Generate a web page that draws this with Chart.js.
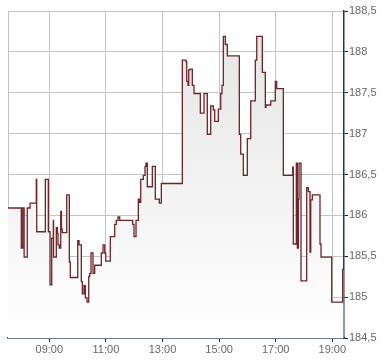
<!DOCTYPE html>
<html>
<head>
<meta charset="utf-8">
<script src="https://cdn.jsdelivr.net/npm/chart.js@4"></script>
<style>
  html, body { margin: 0; padding: 0; background: #fff; }
  #wrap { width: 390px; height: 364px; }
</style>
</head>
<body>
<div id="wrap"><canvas id="chart" width="390" height="364"></canvas></div>
<script>
// time of day (hours) where each price step starts
const times = [
    7.54, 8.01, 8.06, 8.11, 8.22, 8.32, 8.54, 8.555, 8.86, 8.965,
    9.025, 9.085, 9.141, 9.15, 9.247, 9.283, 9.307, 9.353, 9.403, 9.43,
    9.459, 9.615, 9.707, 9.742, 10.004, 10.049, 10.131, 10.166, 10.226, 10.272,
    10.332, 10.392, 10.428, 10.473, 10.544, 10.604, 10.837, 10.898, 10.958, 10.993,
    11.155, 11.311, 11.367, 11.428, 11.488, 11.947, 11.993, 12.064, 12.145, 12.18,
    12.23, 12.322, 12.382, 12.417, 12.463, 12.64, 12.746, 12.887, 12.958, 13.7,
    13.83, 13.855, 13.901, 13.926, 13.972, 14.053, 14.113, 14.336, 14.466, 14.583,
    14.703, 14.795, 14.845, 14.972, 15.057, 15.102, 15.148, 15.219, 15.29, 15.714,
    15.763, 15.855, 15.996, 16.117, 16.279, 16.329, 16.527, 16.633, 16.657, 16.823,
    16.986, 17.035, 17.269, 17.601, 17.622, 17.728, 17.763, 17.799, 17.823, 17.894,
    18.095, 18.152, 18.212, 18.237, 18.293, 18.565, 18.601, 18.979, 19.367, 19.403
];
const prices = [
    186.09, 185.60, 186.09, 185.49, 186.09, 186.15, 186.44, 185.80, 186.44, 185.80,
    185.15, 185.72, 185.94, 185.49, 185.85, 185.78, 185.64, 185.60, 186.05, 185.83,
    185.79, 186.25, 185.43, 185.24, 185.69, 185.64, 185.19, 185.04, 185.14, 184.99,
    184.94, 185.25, 185.29, 185.54, 185.29, 185.39, 185.54, 185.64, 185.54, 185.44,
    185.74, 185.89, 185.94, 185.98, 185.94, 185.89, 185.74, 185.94, 186.20, 186.16,
    186.44, 186.49, 186.60, 186.64, 186.35, 186.60, 186.20, 186.15, 186.39, 187.90,
    187.88, 187.64, 187.59, 187.78, 187.79, 187.59, 187.49, 187.25, 187.49, 186.99,
    187.34, 187.29, 187.15, 187.30, 187.49, 187.59, 188.19, 188.09, 187.95, 186.99,
    186.75, 186.49, 186.94, 187.40, 187.90, 188.19, 187.75, 187.32, 187.35, 187.40,
    187.64, 187.55, 186.49, 186.59, 185.65, 186.64, 185.60, 186.20, 186.64, 185.20,
    186.34, 186.29, 185.55, 186.19, 186.25, 185.65, 185.49, 184.94, 185.34, 185.94
];

const xTickValues = [9, 11, 13, 15, 17, 19];
const xTickLabels = ["09:00", "11:00", "13:00", "15:00", "17:00", "19:00"];
const yTickValues = [184.5, 185, 185.5, 186, 186.5, 187, 187.5, 188, 188.5];

const points = times.map((t, i) => ({ x: t, y: prices[i] }));

const navy = "#1a3262";
const gridGray = "#c4c4c4";

// thin gray frame on the left side of the plot
const leftBorder = {
    id: "leftBorder",
    beforeDatasetsDraw(chart) {
        const { ctx, chartArea } = chart;
        ctx.save();
        ctx.strokeStyle = gridGray;
        ctx.lineWidth = 1;
        ctx.beginPath();
        ctx.moveTo(chartArea.left + 0.5, chartArea.top);
        ctx.lineTo(chartArea.left + 0.5, chartArea.bottom);
        ctx.stroke();
        ctx.restore();
    }
};

new Chart(document.getElementById("chart"), {
    type: "line",
    data: {
        datasets: [{
            data: points,
            stepped: "before",
            borderColor: "#6e2428",
            borderWidth: 1.3,
            pointRadius: 0,
            fill: "start",
            backgroundColor: (context) => {
                const area = context.chart.chartArea;
                if (!area) return "#eee";
                const g = context.chart.ctx.createLinearGradient(0, area.top, 0, area.bottom);
                g.addColorStop(0, "#e4e4e4");
                g.addColorStop(1, "#ffffff");
                return g;
            }
        }]
    },
    options: {
        responsive: false,
        animation: false,
        layout: { padding: { left: 8, top: 11, right: 0, bottom: 0 } },
        plugins: {
            legend: { display: false },
            tooltip: { enabled: false }
        },
        scales: {
            x: {
                type: "linear",
                min: 7.54,
                max: 19.413,
                afterBuildTicks: (scale) => {
                    scale.ticks = xTickValues.map(v => ({ value: v }));
                },
                afterFit: (scale) => { scale.height = 26; },
                ticks: {
                    autoSkip: false,
                    maxRotation: 0,
                    padding: 1,
                    color: "#666",
                    font: { family: "Arial, 'Liberation Sans', sans-serif", size: 11 },
                    callback: (v) => xTickLabels[xTickValues.indexOf(v)]
                },
                grid: {
                    color: gridGray,
                    tickColor: "#222",
                    tickLength: 4,
                    lineWidth: 1
                },
                border: { color: navy, width: 1.5 }
            },
            y: {
                position: "right",
                min: 184.5,
                max: 188.5,
                afterBuildTicks: (scale) => {
                    scale.ticks = yTickValues.map(v => ({ value: v }));
                },
                afterFit: (scale) => { scale.width = 46; },
                ticks: {
                    padding: 1,
                    color: "#666",
                    font: { family: "Arial, 'Liberation Sans', sans-serif", size: 11 },
                    callback: (v) => String(v).replace(".", ",")
                },
                grid: {
                    color: gridGray,
                    tickColor: "#222",
                    tickLength: 4,
                    lineWidth: 1
                },
                border: { color: navy, width: 1.5 }
            }
        }
    },
    plugins: [leftBorder]
});
</script>
</body>
</html>
